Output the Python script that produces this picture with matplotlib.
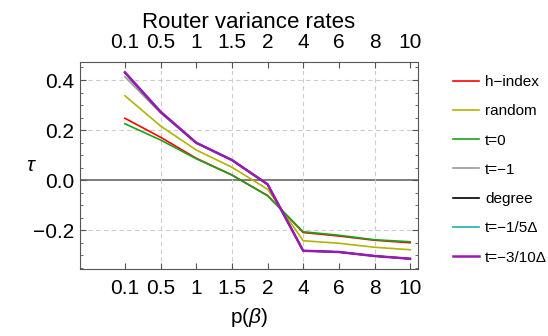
import matplotlib
matplotlib.use('Agg')
import matplotlib.pyplot as plt
from matplotlib.ticker import MultipleLocator

plt.rcParams['font.family'] = ['Liberation Sans', 'DejaVu Sans']
plt.rcParams['mathtext.fontset'] = 'custom'
plt.rcParams['mathtext.it'] = 'Liberation Sans:italic'

rates = ['0.1', '0.5', '1', '1.5', '2', '4', '6', '8', '10']
h_index = [0.247, 0.171, 0.087, 0.020, -0.062, -0.210, -0.224, -0.241, -0.251]
random_ = [0.337, 0.216, 0.120, 0.051, -0.037, -0.243, -0.253, -0.269, -0.279]
t0 = [0.225, 0.160, 0.085, 0.020, -0.063, -0.207, -0.221, -0.239, -0.247]
t_m1 = [0.413, 0.268, 0.147, 0.079, -0.018, -0.283, -0.288, -0.304, -0.315]
degree = [0.428, 0.272, 0.149, 0.080, -0.017, -0.283, -0.288, -0.304, -0.315]
t_m15 = [0.429, 0.273, 0.149, 0.080, -0.017, -0.283, -0.288, -0.304, -0.315]
t_m310 = [0.431, 0.273, 0.149, 0.080, -0.017, -0.283, -0.288, -0.304, -0.315]

series = [
    (h_index, 'h\u2212index', '#ff0000', 1.2),
    (random_, 'random', '#b3b300', 1.2),
    (t0, 't=0', '#19a319', 1.2),
    (t_m1, 't=\u22121', '#999999', 1.2),
    (degree, 'degree', '#000000', 1.2),
    (t_m15, 't=\u22121/5\u0394', '#1ab3b3', 1.2),
    (t_m310, 't=\u22123/10\u0394', '#9919b3', 1.8),
]

fig = plt.figure(figsize=(5.48, 3.36), dpi=100)
ax = fig.add_axes([80/548, 1-269/336, 338/548, 207/336])

x = list(range(len(rates)))
for y, lab, col, lw in series:
    ax.plot(x, y, color=col, lw=lw, label=lab)

ax.axhline(0, color='#666666', lw=1.2, zorder=0)
for g in [-0.2, 0.2, 0.4]:
    ax.axhline(g, color='#cccccc', lw=0.8, ls=(0, (4, 3)), zorder=0)
for g in [1, 3, 5, 7]:
    ax.axvline(g, color='#cccccc', lw=0.8, ls=(0, (4, 3)), zorder=0)

ax.set_xlim(-1.26, 8.22)
ax.set_ylim(-0.356, 0.472)
ax.set_xticks(x)
ax.set_xticklabels(rates)
ax.set_yticks([-0.2, 0.0, 0.2, 0.4])
ax.set_yticklabels(['\u22120.2', '0.0', '0.2', '0.4'])
ax.yaxis.set_minor_locator(MultipleLocator(0.05))
ax.tick_params(which='both', direction='in', top=True, right=True, labeltop=True,
               labelsize=15, color='#555555')
ax.tick_params(axis='x', pad=7)
ax.tick_params(axis='y', pad=4)
ax.tick_params(which='major', length=4)
ax.tick_params(which='minor', length=2.5)
for s in ax.spines.values():
    s.set_color('#555555')

ax.set_title('Router variance rates', fontsize=16, pad=2)
ax.set_xlabel('p($\\mathit{\\beta}$)', fontsize=15, labelpad=6)
ax.set_ylabel('$\\mathit{\\tau}$', fontsize=15, rotation=0, va='center')
ax.yaxis.set_label_coords(-0.145, 0.5)

ax.legend(loc='upper left', bbox_to_anchor=(453/548, 1-75/336), bbox_transform=fig.transFigure,
          frameon=False, fontsize=11, borderpad=0, borderaxespad=0,
          handlelength=1.7, labelspacing=1.0, handletextpad=0.4)

fig.savefig('out.png', dpi=100)
